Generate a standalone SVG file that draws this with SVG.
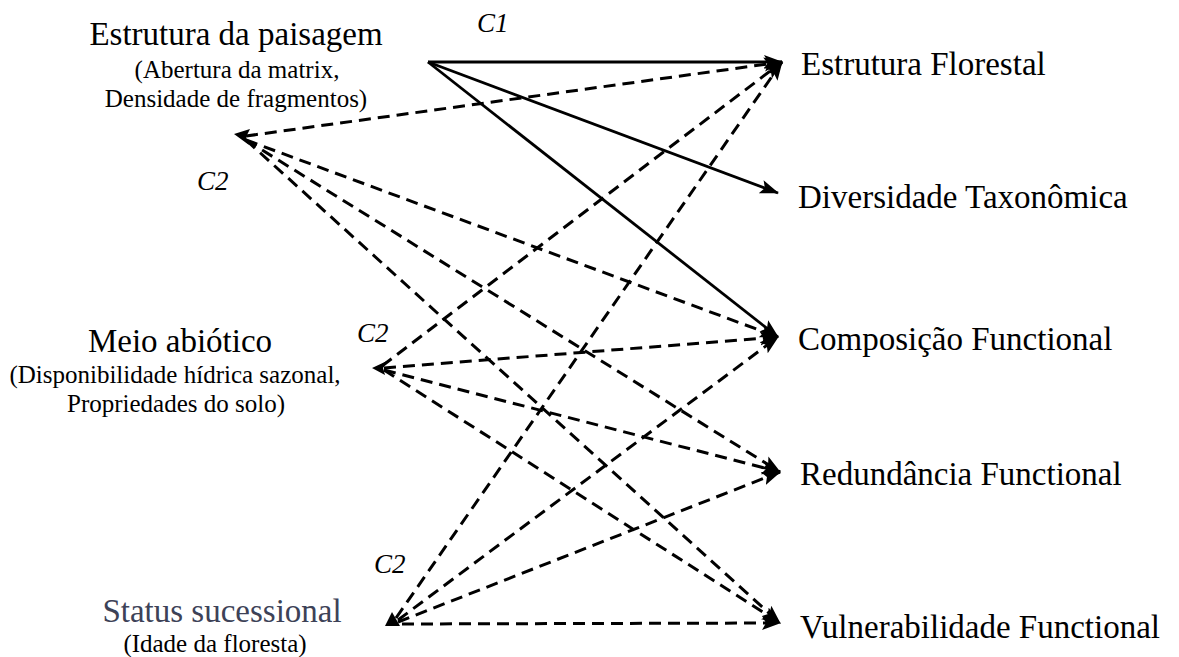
<svg xmlns="http://www.w3.org/2000/svg" width="1179" height="657" viewBox="0 0 1179 657">
<style>
text{font-family:"Liberation Serif","Times New Roman",serif;fill:#000}
.big{font-size:33px}
.sub{font-size:25px;text-anchor:middle}
.mid{text-anchor:middle}
.c{font-size:27px;font-style:italic}
.solid{stroke:#000;stroke-width:2.8;fill:none}
.dash{stroke:#000;stroke-width:3;fill:none;stroke-dasharray:12 7}
.head{fill:#000;stroke:none}
</style>
<defs>
<marker id="arr" markerUnits="userSpaceOnUse" markerWidth="20" markerHeight="16" refX="18" refY="7" orient="auto" viewBox="0 0 20 14">
<path class="head" d="M0,0 L19,7 L0,14 L4,7 z"/>
</marker>
</defs>
<rect width="1179" height="657" fill="#fff"/>
<g id="connectors">
<line class="solid" x1="428" y1="62" x2="782" y2="62" marker-end="url(#arr)"/>
<line class="solid" x1="428" y1="62" x2="778" y2="193" marker-end="url(#arr)"/>
<line class="solid" x1="428" y1="62" x2="778" y2="337" marker-end="url(#arr)"/>
<line class="dash" x1="246" y1="136" x2="782" y2="62" marker-end="url(#arr)"/>
<line class="dash" x1="246" y1="140" x2="778" y2="337" marker-end="url(#arr)"/>
<line class="dash" x1="246" y1="140" x2="780" y2="472" marker-end="url(#arr)"/>
<line class="dash" x1="246" y1="140" x2="780" y2="623" marker-end="url(#arr)"/>
<line class="dash" x1="382" y1="366" x2="782" y2="62" marker-end="url(#arr)"/>
<line class="dash" x1="384" y1="368" x2="778" y2="337" marker-end="url(#arr)"/>
<line class="dash" x1="384" y1="370" x2="780" y2="472" marker-end="url(#arr)"/>
<line class="dash" x1="384" y1="370" x2="780" y2="623" marker-end="url(#arr)"/>
<line class="dash" x1="396" y1="618" x2="782" y2="62" marker-end="url(#arr)"/>
<line class="dash" x1="398" y1="620" x2="778" y2="337" marker-end="url(#arr)"/>
<line class="dash" x1="398" y1="622" x2="780" y2="472" marker-end="url(#arr)"/>
<line class="dash" x1="402" y1="624" x2="780" y2="623" marker-end="url(#arr)"/>
<polygon class="head" points="234,134 250,129 246,137 249,145"/>
<polygon class="head" points="372,368 387,361 383,368 385,375"/>
<polygon class="head" points="385,626 392,612 400,626"/>
</g>
<g id="labels-c">
<text class="c" x="477" y="32">C1</text>
<text class="c" x="197" y="190">C2</text>
<text class="c" x="357" y="342">C2</text>
<text class="c" x="374" y="573">C2</text>
</g>
<g id="node-estrutura-paisagem">
<text class="big mid" x="236" y="45">Estrutura da paisagem</text>
<text class="sub" x="237" y="78">(Abertura da matrix,</text>
<text class="sub" x="236" y="107">Densidade de fragmentos)</text>
</g>
<g id="node-meio-abiotico">
<text class="big mid" x="180" y="352">Meio abiótico</text>
<text class="sub" x="175" y="383">(Disponibilidade hídrica sazonal,</text>
<text class="sub" x="176" y="412">Propriedades do solo)</text>
</g>
<g id="node-status">
<text class="big mid" x="222" y="622" style="fill:#3d4257">Status sucessional</text>
<text class="sub" x="215" y="652">(Idade da floresta)</text>
</g>
<g id="node-estrutura-florestal"><text class="big" x="801" y="75">Estrutura Florestal</text></g>
<g id="node-diversidade"><text class="big" x="798" y="208">Diversidade Taxonômica</text></g>
<g id="node-composicao"><text class="big" x="798" y="350">Composição Functional</text></g>
<g id="node-redundancia"><text class="big" x="800" y="485">Redundância Functional</text></g>
<g id="node-vulnerabilidade"><text class="big" x="800" y="638">Vulnerabilidade Functional</text></g>
</svg>
